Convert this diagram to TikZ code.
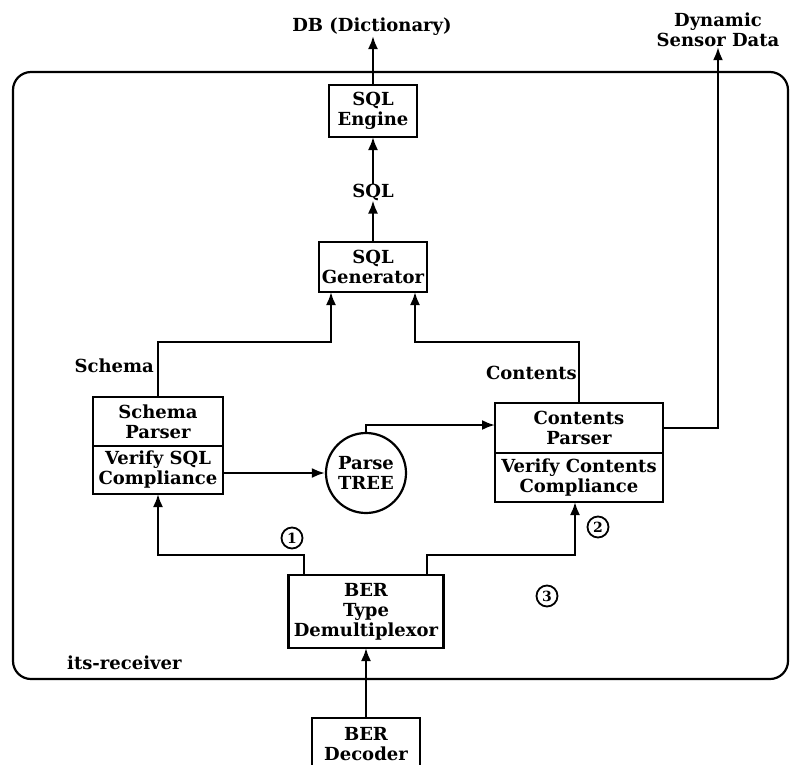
\documentclass[tikz,border=0pt]{standalone}
\usepackage{fontspec}
\setmainfont{DejaVu Serif}
\usetikzlibrary{arrows.meta}
\begin{document}
\begin{tikzpicture}[x=1pt,y=-1pt,
  txt/.style={font=\fontsize{18}{20}\selectfont\bfseries},
  lbl/.style={txt, inner sep=0pt, align=center},
  blk/.style={draw, line width=2.2pt, align=center, inner sep=0pt, outer sep=0pt, txt},
  wire/.style={line width=2.2pt},
  arr/.style={wire, -{Latex[length=13pt,width=10pt]}},
  num/.style={circle, draw, line width=1.8pt, minimum size=21pt, inner sep=0pt,
              font=\fontsize{14}{14}\selectfont\bfseries},
]
\useasboundingbox (0,0) rectangle (790,764);

% receiver frame
\node[draw, line width=2.2pt, rounded corners=18pt, minimum width=775pt,
      minimum height=607pt, inner sep=0pt] (frame) at (400.5,375.5) {};
\node[lbl, anchor=west] (rcv) at (67,663) {its-receiver};

% SQL chain
\node[lbl] (db) at (372,27) {DB (Dictionary)};
\node[blk, minimum width=88pt, minimum height=52pt] (eng) at (373,111) {SQL\\Engine};
\node[lbl] (sqllbl) at (373,192) {SQL};
\node[blk, minimum width=108pt, minimum height=50pt] (gen) at (373,267) {SQL\\Generator};

% schema side
\node[blk, minimum width=130pt, minimum height=49pt] (sp) at (158,421.5) {Schema\\Parser};
\node[blk, minimum width=130pt, minimum height=48pt, anchor=north] (sv) at (sp.south) {Verify SQL\\Compliance};
\node[lbl, anchor=east] (schl) at (154,366) {Schema};

% parse tree
\node[circle, draw, line width=2.2pt, minimum size=80pt, inner sep=0pt, align=center, txt]
  (tree) at (366,473) {Parse\\TREE};

% contents side
\node[blk, minimum width=168pt, minimum height=50pt] (cp) at (579,428) {Contents\\Parser};
\node[blk, minimum width=168pt, minimum height=49pt, anchor=north] (cv) at (cp.south) {Verify Contents\\Compliance};
\node[lbl, anchor=east] (conl) at (577,373) {Contents};
\node[lbl] (dsd) at (718,30) {Dynamic\\Sensor Data};

% BER stages
\node[blk, minimum width=155pt, minimum height=73pt] (dmx) at (366,611.5) {BER\\Type\\Demultiplexor};
\node[blk, minimum width=108pt, minimum height=52pt] (dec) at (366,744) {BER\\Decoder};

% numbered paths
\node[num] (n1) at (292,538) {1};
\node[num] (n2) at (598,527) {2};
\node[num] (n3) at (547,596) {3};

% connectors
\draw[arr] (eng.north) -- (eng.north |- db.south);
\draw[arr] (sqllbl.north) -- (eng.south);
\draw[arr] (gen.north) -- (sqllbl.south);
\draw[arr] (sp.north) -- ++(0,-55) -| ([xshift=-42pt]gen.south);
\draw[arr] (cp.north) -- ++(0,-61) -| ([xshift=42pt]gen.south);
\draw[arr] (tree.west -| sv.east) -- (tree.west);
\draw[arr] (tree.north) |- ([yshift=3pt]cp.west);
\draw[arr] (cp.east) -| (dsd.south);
\draw[arr] ([xshift=-62pt]dmx.north) -- ++(0,-20) -| (sv.south);
\draw[arr] ([xshift=61pt]dmx.north) -- ++(0,-20) -| ([xshift=-4pt]cv.south);
\draw[arr] (dec.north) -- (dmx.south);
\end{tikzpicture}
\end{document}
